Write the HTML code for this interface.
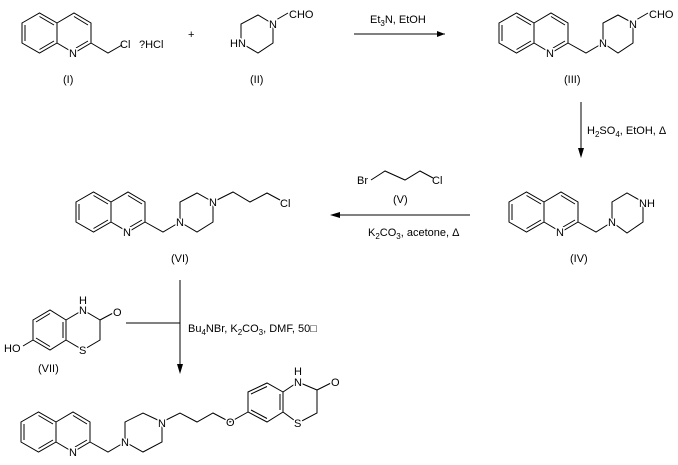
<!DOCTYPE html>
<html><head><meta charset="utf-8"><style>
html,body{margin:0;padding:0;background:#fff;}
svg{display:block;}
text{font-family:"Liberation Sans",Arial,sans-serif;font-size:11px;fill:#000;}
.a{stroke:#fff;stroke-width:3px;paint-order:stroke;}
.s{font-size:8px;}
</style></head><body>
<svg width="678" height="465" viewBox="0 0 678 465" xmlns="http://www.w3.org/2000/svg">
<defs>
<g id="q" fill="none" stroke="#000" stroke-width="1">
<path d="M-69,-20 L-51.5,-30 L-34,-20 L-34,0 L-51.5,10 L-69,0 Z M-34,-20 L-17,-30 L0,-20 L0,0 L-17,10 L-34,0"/>
<path d="M-66,-18 L-66,-2 M-51.5,-26.5 L-37,-18 M-51.5,6.5 L-37,-2 M-17,-26.5 L-3,-18 M-3,-2 L-15,5"/>
</g>
</defs>
<g fill="none" stroke="#000" stroke-width="1">
<!-- I -->
<use href="#q" x="91" y="43"/>
<path d="M91,43 L108,53 L122,45"/>
<!-- II -->
<path d="M273,24 L258,15 L241,24 L241,43 L258,53 L273,43 Z M276,20 L288,13"/>
<!-- arrow1 -->
<path d="M354,34 L445,34"/>
<!-- III -->
<use href="#q" x="568" y="43"/>
<path d="M568,43 L586,53 L603,43"/>
<path d="M603,43 L603,23 L618,15 L633,23 L633,43 L618,53 Z M636,20 L648,13"/>
<!-- vertical arrow -->
<path d="M581,102 L581,150"/>
<!-- IV -->
<use href="#q" x="578" y="222"/>
<path d="M578,222 L596,232 L612,222"/>
<path d="M612,222 L612,202 L627,193 L643,202 L643,222 L627,233 Z"/>
<!-- arrow2 -->
<path d="M470,215 L338,215"/>
<!-- V -->
<path d="M371,180 L385,171 L405,180 L420,171 L433,178"/>
<!-- VI -->
<use href="#q" x="145" y="222"/>
<path d="M145,222 L163,232 L180,222"/>
<path d="M180,222 L180,202 L197,193 L213,202 L213,222 L197,232 Z"/>
<path d="M213,202 L233,192 L250,202 L267,193 L280,200"/>
<!-- arrow3 -->
<path d="M180,280 L180,365 M126,323 L180,323"/>
<!-- VII -->
<path d="M33,320 L50,310 L66,320 L66,340 L50,350 L33,340 Z M66,320 L83,310 L100,320 L100,340 L83,350 L66,340 M100,320 L115,312 M33,340 L23,346"/>
<path d="M36,322 L50,313.5 M63,322 L63,338 M36,338 L50,346.5"/>
<!-- product -->
<use href="#q" x="90" y="442"/>
<path d="M90,442 L108,452 L125,442"/>
<path d="M125,442 L125,422 L143,413 L162,422 L162,442 L143,452 Z"/>
<path d="M162,422 L180,413 L197,422 L213,413 L230,422 L248,412"/>
<path d="M248,392 L267,383 L283,392 L283,412 L267,422 L248,412 Z M283,392 L298,382 L317,390 L317,413 L298,423 L283,412 M317,390 L333,382"/>
<path d="M251,394 L267,386.5 M280,394 L280,410 M251,410 L267,418.5"/>
</g>
<g fill="#000">
<path d="M445,34 L437,31 L437,37 Z"/>
<path d="M581,158 L578,148 L584,148 Z"/>
<path d="M330,215 L340,212 L340,218 Z"/>
<path d="M180,374 L177,364 L183,364 Z"/>
</g>
<!-- labels -->
<text class="a" x="69" y="57">N</text>
<text x="120" y="48">Cl</text>
<text x="139" y="48">?HCl</text>
<text x="188" y="38">+</text>
<text class="a" x="230" y="47">HN</text>
<text class="a" x="269" y="28">N</text>
<text x="289" y="18">CHO</text>
<text x="63" y="83">(I)</text>
<text x="250" y="83">(II)</text>
<text x="370" y="23">Et<tspan class="s" dy="3">3</tspan><tspan dy="-3">N, EtOH</tspan></text>
<text class="a" x="546" y="57">N</text>
<text class="a" x="599" y="47">N</text>
<text class="a" x="629" y="28">N</text>
<text x="649" y="18">CHO</text>
<text x="564" y="83">(III)</text>
<text x="587" y="134">H<tspan class="s" dy="3">2</tspan><tspan dy="-3">SO</tspan><tspan class="s" dy="3">4</tspan><tspan dy="-3">, EtOH, Δ</tspan></text>
<text class="a" x="556" y="236">N</text>
<text class="a" x="608" y="226">N</text>
<text class="a" x="639" y="207">NH</text>
<text x="570" y="262">(IV)</text>
<text x="357" y="184">Br</text>
<text x="432" y="184">Cl</text>
<text x="393" y="203">(V)</text>
<text x="368" y="236">K<tspan class="s" dy="3">2</tspan><tspan dy="-3">CO</tspan><tspan class="s" dy="3">3</tspan><tspan dy="-3">, acetone, Δ</tspan></text>
<text class="a" x="123" y="236">N</text>
<text class="a" x="176" y="226">N</text>
<text class="a" x="209" y="206">N</text>
<text x="280" y="207">Cl</text>
<text x="171" y="262">(VI)</text>
<text x="188" y="332">Bu<tspan class="s" dy="3">4</tspan><tspan dy="-3">NBr, K</tspan><tspan class="s" dy="3">2</tspan><tspan dy="-3">CO</tspan><tspan class="s" dy="3">3</tspan><tspan dy="-3">, DMF, 50□</tspan></text>
<text class="a" x="79" y="314">N</text>
<text x="79" y="304">H</text>
<text class="a" x="113" y="316">O</text>
<text class="a" x="79" y="354">S</text>
<text x="4" y="352">HO</text>
<text x="38" y="372">(VII)</text>
<text class="a" x="69" y="456">N</text>
<text class="a" x="121" y="446">N</text>
<text class="a" x="158" y="427">N</text>
<text class="a" x="226" y="426">O</text>
<text class="a" x="294" y="386">N</text>
<text x="294" y="375">H</text>
<text class="a" x="331" y="386">O</text>
<text class="a" x="294" y="427">S</text>
</svg>
</body></html>
